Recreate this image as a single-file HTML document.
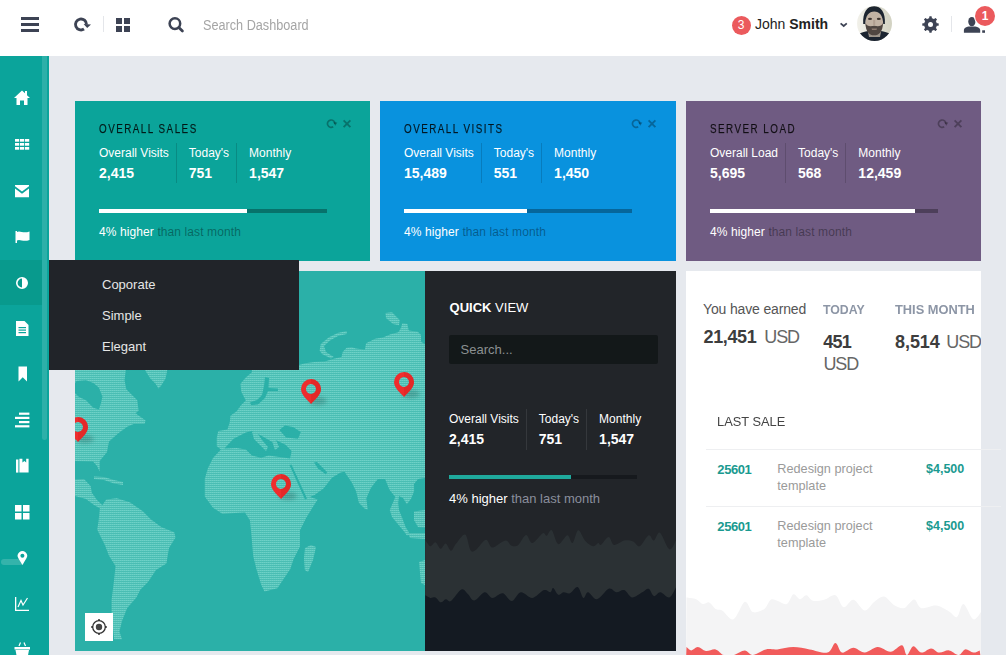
<!DOCTYPE html>
<html><head><meta charset="utf-8">
<style>
*{margin:0;padding:0;box-sizing:border-box}
html,body{width:1006px;height:655px;overflow:hidden}
body{background:#e6e9ee;font-family:"Liberation Sans",sans-serif;position:relative}
.a{position:absolute;white-space:nowrap}
#hdr{position:absolute;left:0;top:0;width:1006px;height:56px;background:#fff}
#side{position:absolute;left:0;top:56px;width:49px;height:599px;background:#0ba49b;overflow:hidden}
.card{position:absolute;overflow:hidden}
.ct{position:absolute;left:24.3px;top:22.2px;font-size:12px;line-height:12px;color:rgba(0,0,0,0.82);-webkit-text-stroke:0.25px rgba(0,0,0,0.6);letter-spacing:1.8px;transform:scaleX(0.82);transform-origin:0 0;white-space:nowrap}
.stats{position:absolute;left:24px;top:42.4px;display:flex;white-space:nowrap}
.stats>div{font-size:12px;line-height:12px;color:#fff;padding:3.2px 7px 0 12px;border-right:1px solid rgba(0,0,0,0.15);height:40px;position:relative}
.stats>div:first-child{padding-left:0}
.stats>div:last-child{border-right:0}
.stats b{display:block;font-size:14px;line-height:14px;margin-top:7.1px}
.pb{position:absolute;left:24px;top:108px;width:228px;height:4px;background:rgba(0,0,0,0.3)}
.pb i{position:absolute;left:0;top:0;height:4px;background:#fff}
.ft{position:absolute;left:24px;top:124.9px;font-size:12px;line-height:12px;color:#fff;white-space:nowrap;letter-spacing:0.1px}
.ft span{color:rgba(0,0,0,0.38)}
.tools{position:absolute;left:250px;top:18px}
.qs>div{padding-top:3.4px;height:40.7px}
.qs b{margin-top:7.4px}
.ddi{position:absolute;left:53px;font-size:13px;line-height:13px;color:#e6e6e6}
</style></head><body>
<div id="hdr">
  <!-- hamburger -->
  <div class="a" style="left:21px;top:17px;width:18px;height:3px;background:#3d4354"></div>
  <div class="a" style="left:21px;top:23px;width:18px;height:3px;background:#3d4354"></div>
  <div class="a" style="left:21px;top:29px;width:18px;height:3px;background:#3d4354"></div>
  <!-- refresh -->
  <svg class="a" style="left:72px;top:15px" width="22" height="20" viewBox="0 0 22 20"><path d="M12 14.06 A5.5 5.5 0 1 1 14.5 9.45" fill="none" stroke="#3d4354" stroke-width="2.9"/><path d="M11.6 9 L19 9.4 L15.2 13 Z" fill="#3d4354"/></svg>
  <div class="a" style="left:103px;top:16px;width:1px;height:16px;background:#e4e6ea"></div>
  <!-- grid -->
  <div class="a" style="left:116px;top:18px;width:6px;height:6px;background:#3d4354"></div>
  <div class="a" style="left:124px;top:18px;width:6px;height:6px;background:#3d4354"></div>
  <div class="a" style="left:116px;top:26px;width:6px;height:6px;background:#3d4354"></div>
  <div class="a" style="left:124px;top:26px;width:6px;height:6px;background:#3d4354"></div>
  <!-- search -->
  <svg class="a" style="left:166px;top:15px" width="22" height="20" viewBox="0 0 22 20"><circle cx="8.9" cy="8.6" r="5.3" fill="none" stroke="#3d4354" stroke-width="2.5"/><path d="M12.8 12.5 L16.4 16.1" stroke="#3d4354" stroke-width="2.8" stroke-linecap="round"/></svg>
  <div class="a" style="left:202.5px;top:18.2px;font-size:14px;line-height:14px;color:#a5a5a5;transform:scaleX(0.905);transform-origin:0 0">Search Dashboard</div>
  <!-- user -->
  <div class="a" style="left:731.5px;top:16px;width:19px;height:19px;border-radius:50%;background:#eb5a5d;color:#fff;font-size:12px;line-height:19px;text-align:center">3</div>
  <div class="a" style="left:755px;top:17.1px;font-size:14px;line-height:14px;color:#222">John <b>Smith</b></div>
  <svg class="a" style="left:838px;top:20px" width="12" height="10" viewBox="0 0 12 10"><path d="M2.6 3.3 L5.7 6 L8.8 3.3" fill="none" stroke="#3d4354" stroke-width="1.7"/></svg>
  <!-- avatar -->
  <svg class="a" style="left:857px;top:5.85px" width="35" height="35" viewBox="0 0 35 35">
    <defs><clipPath id="avc"><circle cx="17.5" cy="17.5" r="17.5"/></clipPath>
    <linearGradient id="avg" x1="0" x2="1" y1="0" y2="0"><stop offset="0" stop-color="#f2f1ea"/><stop offset="1" stop-color="#d2d2c2"/></linearGradient></defs>
    <g clip-path="url(#avc)">
      <rect width="35" height="35" fill="url(#avg)"/>
      <path d="M0 35 L0 29 C4 26.5 8 25.3 11 25 C13 28.5 21.5 28.5 24 25 C27 25.3 31 26.5 35 29 L35 35 Z" fill="#1b2430"/>
      <path d="M10.8 25 L24.2 25 L23 31 L12 31 Z" fill="#9c948a"/>
      <ellipse cx="17.2" cy="16" rx="9" ry="11.5" fill="#c2b3a4"/>
      <path d="M8.4 17 C8.6 26 12.5 29.3 17.2 29.3 C21.9 29.3 25.8 26 26 17 C24.5 20.5 21.5 20.5 17.2 19.8 C13 20.5 10 20.5 8.4 17 Z" fill="#4f4641"/>
      <path d="M14.5 22.6 L20 22.6 L19.5 24 L15 24 Z" fill="#8c7a70"/>
      <path d="M6.2 18 C5.6 6 10 0.2 17 0.2 C24 0.2 28.6 6 27.9 18 L26.2 18 C26 9.5 22.5 5.5 17.2 5.5 C12 5.5 8.6 9.5 8.2 18 Z" fill="#1d2530"/>
      <ellipse cx="13" cy="12.9" rx="2" ry="1.1" fill="#3d3530"/>
      <ellipse cx="21.8" cy="12.9" rx="2" ry="1.1" fill="#3d3530"/>
      <rect x="16.2" y="14" width="2" height="5" fill="#b09e90"/>
    </g>
  </svg>
  <!-- gear -->
  <svg class="a" style="left:921px;top:15.4px" width="19" height="19" viewBox="0 0 19 19">
    <g fill="#3d4354" transform="translate(9.5 9.5)">
      <circle r="6.4"/>
      <rect x="-1.3" y="-8.2" width="2.6" height="3" rx="0.6"/>
      <rect x="-1.3" y="-8.2" width="2.6" height="3" rx="0.6" transform="rotate(45)"/>
      <rect x="-1.3" y="-8.2" width="2.6" height="3" rx="0.6" transform="rotate(90)"/>
      <rect x="-1.3" y="-8.2" width="2.6" height="3" rx="0.6" transform="rotate(135)"/>
      <rect x="-1.3" y="-8.2" width="2.6" height="3" rx="0.6" transform="rotate(180)"/>
      <rect x="-1.3" y="-8.2" width="2.6" height="3" rx="0.6" transform="rotate(225)"/>
      <rect x="-1.3" y="-8.2" width="2.6" height="3" rx="0.6" transform="rotate(270)"/>
      <rect x="-1.3" y="-8.2" width="2.6" height="3" rx="0.6" transform="rotate(315)"/>
      <circle r="2.5" fill="#fff"/>
    </g>
  </svg>
  <div class="a" style="left:951px;top:16px;width:1px;height:16px;background:#e4e6ea"></div>
  <!-- person -->
  <svg class="a" style="left:963px;top:16px" width="24" height="18" viewBox="0 0 24 18">
    <ellipse cx="8.85" cy="5.6" rx="3.6" ry="4.7" fill="#3d4354"/>
    <path d="M0.9 16.8 L0.9 14 C0.9 12 3 11 5.5 10.4 L12.3 10.4 C15 11 17.2 12 17.2 14 L17.2 16.8 Z" fill="#3d4354"/>
    <rect x="19.2" y="14.3" width="2.8" height="2.5" fill="#3d4354"/>
  </svg>
  <div class="a" style="left:975px;top:6px;width:20px;height:20px;border-radius:50%;background:#eb5a5d;box-shadow:0 0 0 1px #fff;color:#fff;font-size:12px;line-height:20px;text-align:center;font-weight:bold">1</div>
</div>

<div id="side">
  <div class="a" style="left:0;top:204px;width:42px;height:45px;background:#089a8d"></div>
  <div class="a" style="left:42px;top:0;width:5px;height:384px;border-radius:0 0 3px 3px;background:rgba(255,255,255,0.14)"></div>
  <div class="a" style="left:1px;top:503px;width:23px;height:6px;border-radius:3px;background:rgba(255,255,255,0.17)"></div>
  <svg class="a" style="left:0;top:0" width="42" height="599" viewBox="0 56 42 599" fill="#fff">
    <!-- home 98 -->
    <path d="M14 98 L22 90.5 L25 93.3 L25 91 L27 91 L27 95.2 L30 98 L27.5 98 L27.5 105 L24 105 L24 100.5 L20 100.5 L20 105 L16.5 105 L16.5 98 Z"/>
    <!-- grid 144 -->
    <g><rect x="15" y="139" width="4.2" height="2.7"/><rect x="20" y="139" width="4.2" height="2.7"/><rect x="25" y="139" width="4.2" height="2.7"/><rect x="15" y="143" width="4.2" height="2.7"/><rect x="20" y="143" width="4.2" height="2.7"/><rect x="25" y="143" width="4.2" height="2.7"/><rect x="15" y="147" width="4.2" height="2.7"/><rect x="20" y="147" width="4.2" height="2.7"/><rect x="25" y="147" width="4.2" height="2.7"/></g>
    <!-- mail 191 -->
    <path d="M15 185 L29 185 L29 186.2 L22 191.5 L15 186.2 Z"/>
    <path d="M15 188.5 L22 193.8 L29 188.5 L29 197.3 L15 197.3 Z"/>
    <!-- flag 237 -->
    <path d="M15.5 231 L17 231 L17 243 L15.5 243 Z"/>
    <path d="M17 232 C20 230 23 234 29.5 231.5 L29.5 240 C23 242.5 20 238.5 17 240.5 Z"/>
    <!-- contrast 283 -->
    <circle cx="22" cy="283" r="5.2" fill="none" stroke="#fff" stroke-width="1.6"/>
    <path d="M22 277.8 A5.2 5.2 0 0 1 22 288.2 Z"/>
    <!-- doc 329 -->
    <path d="M16 321 L24.5 321 L28.5 325 L28.5 336 L16 336 Z"/>
    <g fill="#0ba49b"><rect x="18.5" y="327" width="7.5" height="1.2"/><rect x="18.5" y="329.5" width="7.5" height="1.2"/><rect x="18.5" y="332" width="7.5" height="1.2"/></g>
    <!-- bookmark 374 -->
    <path d="M18.5 366.5 L27 366.5 L27 381.5 L22.75 377.2 L18.5 381.5 Z"/>
    <!-- list 420 -->
    <g><rect x="19" y="412.6" width="10.4" height="2.2"/><rect x="15" y="416.8" width="14.4" height="2.2"/><rect x="19" y="421" width="10.4" height="2.2"/><rect x="15" y="425.2" width="14.4" height="2.2"/></g>
    <!-- book 466 -->
    <path d="M16 459.5 L18.4 459.5 L18.4 472.6 L16 472.6 Z"/>
    <path d="M19.4 458.8 L22.4 458.8 L22.4 462.4 L24.4 461 L26.2 462.4 L26.2 458.8 L28.6 458.8 L28.6 472.6 L19.4 472.6 Z"/>
    <!-- grid4 512 -->
    <g><rect x="15" y="505" width="6.5" height="6.5"/><rect x="23" y="505" width="6.5" height="6.5"/><rect x="15" y="513" width="6.5" height="6.5"/><rect x="23" y="513" width="6.5" height="6.5"/></g>
    <!-- pin 558 -->
    <path d="M22.4 565 L18.5 558.5 A4.7 4.7 0 1 1 26.3 558.5 Z"/>
    <circle cx="22.4" cy="555.7" r="2" fill="#0ba49b"/>
    <!-- chart 604 -->
    <path d="M15 597 L16.3 597 L16.3 609.7 L29 609.7 L29 611 L15 611 Z"/>
    <path d="M18 607 L21 600.5 L23 605 L27.5 598" fill="none" stroke="#fff" stroke-width="1.2"/>
    <!-- basket 650 -->
    <path d="M14.5 647 L30 647 L30 649.5 L14.5 649.5 Z"/>
    <path d="M15.5 650 L29 650 L27.5 658 L17 658 Z"/>
    <path d="M19 646 L20.5 642.5 M25.5 646 L24 642.5" stroke="#fff" stroke-width="1.2"/>
  </svg>
</div>

<!-- ROW 1 CARDS -->
<div class="card" style="left:75px;top:101px;width:295px;height:160px;background:#0ba49a">
  <div class="ct">OVERALL SALES</div><svg class="tools" width="32" height="14" viewBox="0 0 32 14"><path d="M8.2 7.8 A3.7 3.7 0 1 1 9.9 4.7" fill="none" stroke="rgba(0,0,0,0.3)" stroke-width="1.7"/><path d="M8.3 3.3 L12.3 3.5 L10.3 6.7 Z" fill="rgba(0,0,0,0.3)"/><path d="M18.6 1.4 L25.4 8.2 M25.4 1.4 L18.6 8.2" stroke="rgba(0,0,0,0.3)" stroke-width="1.9"/></svg>
  <div class="stats"><div>Overall Visits<b>2,415</b></div><div>Today's<b>751</b></div><div>Monthly<b>1,547</b></div></div>
  <div class="pb"><i style="width:148px"></i></div>
  <div class="ft">4% higher <span>than last month</span></div>
</div>
<div class="card" style="left:380px;top:101px;width:296px;height:160px;background:#0992de">
  <div class="ct">OVERALL VISITS</div><svg class="tools" width="32" height="14" viewBox="0 0 32 14"><path d="M8.2 7.8 A3.7 3.7 0 1 1 9.9 4.7" fill="none" stroke="rgba(0,0,0,0.3)" stroke-width="1.7"/><path d="M8.3 3.3 L12.3 3.5 L10.3 6.7 Z" fill="rgba(0,0,0,0.3)"/><path d="M18.6 1.4 L25.4 8.2 M25.4 1.4 L18.6 8.2" stroke="rgba(0,0,0,0.3)" stroke-width="1.9"/></svg>
  <div class="stats"><div>Overall Visits<b>15,489</b></div><div>Today's<b>551</b></div><div>Monthly<b>1,450</b></div></div>
  <div class="pb"><i style="width:123px"></i></div>
  <div class="ft">4% higher <span>than last month</span></div>
</div>
<div class="card" style="left:686px;top:101px;width:295px;height:160px;background:#6f5b82">
  <div class="ct">SERVER LOAD</div><svg class="tools" width="32" height="14" viewBox="0 0 32 14"><path d="M8.2 7.8 A3.7 3.7 0 1 1 9.9 4.7" fill="none" stroke="rgba(0,0,0,0.3)" stroke-width="1.7"/><path d="M8.3 3.3 L12.3 3.5 L10.3 6.7 Z" fill="rgba(0,0,0,0.3)"/><path d="M18.6 1.4 L25.4 8.2 M25.4 1.4 L18.6 8.2" stroke="rgba(0,0,0,0.3)" stroke-width="1.9"/></svg>
  <div class="stats"><div>Overall Load<b>5,695</b></div><div>Today's<b>568</b></div><div>Monthly<b>12,459</b></div></div>
  <div class="pb"><i style="width:205px"></i></div>
  <div class="ft">4% higher <span>than last month</span></div>
</div>

<!-- ROW 2 -->
<svg class="a" style="left:75px;top:271px" width="350" height="380" viewBox="75 271 350 380">
<defs>
<pattern id="dots" x="0" y="0" width="2" height="2" patternUnits="userSpaceOnUse">
<rect width="2" height="2" fill="#4abdb3"/><rect width="2" height="1" fill="#61cbc1"/><rect width="1" height="1" fill="#6fd1c7"/>
</pattern>
<filter id="blur" x="-50%" y="-50%" width="200%" height="200%"><feGaussianBlur stdDeviation="2"/></filter>
</defs>
<rect x="75" y="271" width="350" height="380" fill="#2bb0a8"/>
<polygon points="75,366 126.3,366 124.5,380.2 126.3,389.3 130,393 137.3,400.3 138.6,410.8 135.5,413.2 145.6,420.5 144.6,424.1 133.6,424.1 127.2,426.8 118,433.6 109,441.5 107,452 99.7,461 99.7,471.4 97,466 93,461.5 75,461" fill="url(#dots)"/><polygon points="75,479.4 84,479 90.6,486 92,493 97,500 104.3,506.9 101,509 94,505 86,499 75,496" fill="url(#dots)"/><polygon points="143,366 168,366 165.7,378.3 161.1,385.7 158.4,388.4 155.6,383.8 150.1,378.3 145.6,371" fill="url(#dots)"/><polygon points="94,476.5 104,477 114,480 123,482 123,485 114,483.5 104,480 94,479" fill="url(#dots)"/><polygon points="99.8,508.7 106.3,499.6 116.8,498.3 129.8,502.2 142.9,511.3 150.7,519.2 161.2,527 174.2,532.2 175.5,537.5 169,548 166.4,563.6 156,570 148,581.9 140.3,589.7 136.4,597.5 127.2,608 122,621 119.4,631.5 122,639.3 114.2,639.3 111.6,615.8 111.6,600 114.2,579 115.5,566 109,555.7 105,545.3 101.1,537.5 97.2,529.6 98.5,521.8" fill="url(#dots)"/><polygon points="252,365 299,365 305.3,363.3 314.4,362 324.7,361.4 333.8,358.8 341.5,356.9 342.8,351.7 346.7,347.8 351.9,347.2 355.7,348.5 359.6,349.1 364.8,349.8 366.1,343.3 375.1,338.8 382.9,337.5 390.6,334.2 398.4,332.3 401,327.8 402.3,323.3 407.4,323.9 408.7,330.4 417.8,331.7 421,334.9 421,341.4 425,344.6 425,478 418,479 414,484 414.1,491.3 411.2,498.5 406.9,504.3 403,498 399,496 398.2,503 399,510.1 402.5,518.8 406.9,530.4 409,534.8 407,535.5 398,522 392,514 390,509.5 395.3,497 389.5,489.8 385.1,478.9 377.9,478.9 375,482.6 370.6,488.4 366.3,498.5 367.7,509.4 364.8,508.7 359,502.9 356.1,491.3 351.8,482.6 344.5,471.7 340.6,472.4 332,477.7 323.5,488.4 314.9,494.8 310,497 317.7,499.6 314.4,504.5 306.4,517.4 300,530.3 300,546.4 293.5,559.3 290.3,569 277.4,588.3 264.5,591.5 261.3,585 256.4,569 253.2,556 251.6,536.7 250,520.6 245,512.5 235,513 222.6,514 213,507.7 204.8,496.4 204.8,478.7 208,468 213,458 221,449.4 216.8,446.3 216.8,437.2 218.3,431.1 227.5,429.5 229.8,421.9 230.5,415.8 236.6,411.2 241.2,405.1 245.8,400.5 241.2,391.4 240.5,383.7 245.8,377.6 251.9,372.3" fill="url(#dots)"/><polygon points="305,548 311,545 316,547 313,560 308,572 304.8,570 304,558" fill="url(#dots)"/><polygon points="389.7,509.8 394,512 409,532 407,535 392,517" fill="url(#dots)"/><polygon points="414,511.6 425,510 425,527.5 418,527 414,520" fill="url(#dots)"/><polygon points="408,533 425,533 425,539 410,538" fill="url(#dots)"/><polygon points="419,562 425,560 425,585 421,583" fill="url(#dots)"/><polygon points="319.6,350.4 320.8,344 328.6,337.5 337.6,333 346.7,331 346.7,334 338,336 330,340.5 324,346 326,352 333.8,357 331,358.5 322,354" fill="url(#dots)"/><polygon points="385.5,313 392,312.3 399.7,320 399,325.2 393,324 386,318" fill="url(#dots)"/>
<polygon points="76.8,381 86,380.2 93.3,382.9 98.8,387.5 102.5,396.7 100.7,404 98.8,409.5 93.3,407.7 86,400.3 78.7,396.7 75,393 75,383" fill="#2bb0a8"/><polygon points="224.4,448.5 233.6,438.7 245.8,432.6 251.9,431.1 261,435.6 271.8,441.8 276.3,440.2 285.5,444.8 291.6,450.9 290.1,458.5 279.4,457 268.7,455.5 261,457.8 251.9,455.5 245.8,449.4 236.6,447.9" fill="#2bb0a8"/><polygon points="279.4,430 285,425.5 293,427 300.8,432 298,438.7 286,437.5" fill="#2bb0a8"/><polygon points="289.5,465 291.5,464.5 307,498.5 305,499.5" fill="#2bb0a8"/><polygon points="314,462.5 317,462 327,472 326,474.5 318,468.5" fill="#2bb0a8"/><polygon points="265,377 269,378 268.5,388 278,388.5 278,391 268,391 265,398 258,404.5 251,405 250,402.5 257,400 262,395 264,386" fill="#2bb0a8"/>
<polygon points="252,432 256,431 262,440 268,447 266,451 261,446 254,439" fill="url(#dots)"/><polygon points="272,441 276,440 279,447 275,450" fill="url(#dots)"/><g transform="translate(311 379)">
<ellipse cx="7" cy="22" rx="9" ry="4" fill="rgba(0,0,0,0.18)" filter="url(#blur)"/>
<path fill-rule="evenodd" d="M0 25 C-3 21 -10 16.5 -10 10 A10 10 0 1 1 10 10 C10 16.5 3 21 0 25 Z M0 5 A5 5 0 1 0 0.01 5 Z" fill="#ee2d2d"/>
<path fill-rule="evenodd" d="M0 25 C3 21 10 16.5 10 10 A10 10 0 0 0 0 0 L0 5 A5 5 0 0 1 0 15 Z" fill="#dc2424" opacity="0.55"/>
</g><g transform="translate(404 372)">
<ellipse cx="7" cy="22" rx="9" ry="4" fill="rgba(0,0,0,0.18)" filter="url(#blur)"/>
<path fill-rule="evenodd" d="M0 25 C-3 21 -10 16.5 -10 10 A10 10 0 1 1 10 10 C10 16.5 3 21 0 25 Z M0 5 A5 5 0 1 0 0.01 5 Z" fill="#ee2d2d"/>
<path fill-rule="evenodd" d="M0 25 C3 21 10 16.5 10 10 A10 10 0 0 0 0 0 L0 5 A5 5 0 0 1 0 15 Z" fill="#dc2424" opacity="0.55"/>
</g><g transform="translate(281 474)">
<ellipse cx="7" cy="22" rx="9" ry="4" fill="rgba(0,0,0,0.18)" filter="url(#blur)"/>
<path fill-rule="evenodd" d="M0 25 C-3 21 -10 16.5 -10 10 A10 10 0 1 1 10 10 C10 16.5 3 21 0 25 Z M0 5 A5 5 0 1 0 0.01 5 Z" fill="#ee2d2d"/>
<path fill-rule="evenodd" d="M0 25 C3 21 10 16.5 10 10 A10 10 0 0 0 0 0 L0 5 A5 5 0 0 1 0 15 Z" fill="#dc2424" opacity="0.55"/>
</g><g transform="translate(78 417)">
<ellipse cx="7" cy="22" rx="9" ry="4" fill="rgba(0,0,0,0.18)" filter="url(#blur)"/>
<path fill-rule="evenodd" d="M0 25 C-3 21 -10 16.5 -10 10 A10 10 0 1 1 10 10 C10 16.5 3 21 0 25 Z M0 5 A5 5 0 1 0 0.01 5 Z" fill="#ee2d2d"/>
<path fill-rule="evenodd" d="M0 25 C3 21 10 16.5 10 10 A10 10 0 0 0 0 0 L0 5 A5 5 0 0 1 0 15 Z" fill="#dc2424" opacity="0.55"/>
</g>
<rect x="85" y="613" width="28" height="28" fill="#fff"/>
<circle cx="99" cy="627" r="6.3" fill="none" stroke="#333" stroke-width="1.3"/>
<circle cx="99" cy="627" r="3.2" fill="#444"/>
<path d="M99 619.3 L99 621 M99 633 L99 634.7 M91.3 627 L93 627 M105 627 L106.7 627" stroke="#333" stroke-width="2"/>
</svg>
<div class="a" style="left:425px;top:271px;width:251px;height:380px;background:#222529;overflow:hidden">
<svg class="a" style="left:0;top:0" width="251" height="380" viewBox="425 271 251 380">
<path d="M425.2 539.7 C426.1 540.8 428.6 545.8 430.3 546.2 C432.0 546.6 433.8 541.9 435.5 542.3 C437.2 542.7 439.0 548.6 440.7 548.8 C442.4 549.0 444.1 543.3 445.8 543.6 C447.5 543.9 449.3 550.8 451.0 550.8 C452.7 550.8 453.8 546.3 456.2 543.6 C458.6 540.9 462.8 533.5 465.2 534.6 C467.6 535.7 468.7 547.4 470.4 550.0 C472.1 552.6 473.0 551.7 475.6 550.0 C478.2 548.3 483.1 540.1 485.9 539.7 C488.7 539.3 489.2 547.4 492.4 547.5 C495.6 547.6 502.1 540.8 505.3 540.5 C508.5 540.2 509.6 545.0 511.8 545.7 C514.0 546.4 515.8 546.7 518.2 544.9 C520.6 543.1 523.6 535.3 526.0 535.0 C528.4 534.7 529.6 543.3 532.4 543.0 C535.2 542.7 540.4 534.5 542.8 533.3 C545.2 532.1 545.1 536.3 546.6 535.8 C548.1 535.3 549.8 528.8 551.8 530.2 C553.8 531.6 555.7 543.2 558.3 544.1 C560.9 545.0 564.9 535.5 567.3 535.3 C569.7 535.1 570.7 543.9 572.5 543.0 C574.3 542.1 576.1 530.5 578.2 530.2 C580.4 529.9 582.9 538.3 585.4 541.0 C587.9 543.7 591.1 545.9 593.2 546.2 C595.4 546.5 597.0 543.2 598.3 543.0 C599.6 542.8 599.2 545.9 600.9 544.9 C602.6 543.9 606.5 537.1 608.7 537.1 C610.9 537.1 611.3 544.3 613.9 544.9 C616.5 545.5 621.0 541.1 624.2 540.5 C627.4 539.9 630.6 540.5 633.2 541.5 C635.8 542.5 637.1 547.2 639.7 546.2 C642.3 545.2 646.3 536.2 648.7 535.3 C651.1 534.3 652.0 540.9 653.9 540.5 C655.8 540.1 657.3 531.2 659.9 532.7 C662.5 534.2 666.7 548.0 669.4 549.3 C672.1 550.6 674.9 542.0 676.0 540.5 L676.0 651.0 L425.0 651.0 Z" fill="#2b3134"/>
<path d="M425.2 595.3 C426.1 595.7 428.6 597.5 430.3 597.9 C432.0 598.2 433.8 596.7 435.5 597.4 C437.2 598.1 439.0 602.0 440.7 602.3 C442.4 602.6 444.1 599.4 445.8 599.2 C447.5 599.0 448.4 602.6 451.0 601.0 C453.6 599.4 458.6 590.8 461.4 589.6 C464.2 588.4 465.6 592.2 467.8 594.0 C470.0 595.8 471.5 600.8 474.3 600.5 C477.1 600.2 481.6 592.6 484.6 592.2 C487.6 591.8 489.4 597.7 492.4 597.9 C495.4 598.1 499.5 592.7 502.7 593.2 C505.9 593.7 508.8 601.2 511.8 601.0 C514.8 600.8 517.4 592.7 520.8 592.2 C524.2 591.7 528.5 598.2 532.4 597.9 C536.3 597.5 541.1 591.0 544.1 590.1 C547.1 589.2 549.0 592.5 550.5 592.2 C552.0 591.9 551.8 587.7 553.1 588.1 C554.4 588.5 556.6 594.1 558.3 594.8 C560.0 595.5 561.6 592.5 563.5 592.2 C565.4 591.9 567.5 594.1 569.9 593.2 C572.3 592.3 575.5 586.2 577.7 587.0 C579.9 587.8 581.6 597.0 583.3 597.9 C585.0 598.8 585.7 592.0 588.0 592.2 C590.3 592.4 593.5 599.8 597.0 599.2 C600.5 598.6 605.5 590.0 608.7 588.8 C611.9 587.6 613.8 592.0 616.4 592.2 C619.0 592.4 621.6 589.2 624.2 590.1 C626.8 591.0 629.0 597.0 632.0 597.4 C635.0 597.8 639.5 593.6 642.3 592.2 C645.1 590.8 646.8 588.1 648.7 588.8 C650.6 589.4 652.0 595.5 653.9 596.1 C655.8 596.7 657.8 592.0 660.4 592.2 C663.0 592.4 666.8 598.2 669.4 597.4 C672.0 596.6 674.9 589.1 676.0 587.5 L676.0 651.0 L425.0 651.0 Z" fill="#141a22"/>
</svg>
<div class="a" style="left:24.6px;top:29.7px;font-size:13px;line-height:13px;color:#fff"><b>QUICK</b> VIEW</div>
<div class="a" style="left:24px;top:64px;width:209px;height:29px;border-radius:2px;background:#131819"></div>
<div class="a" style="left:35.6px;top:71.7px;font-size:13px;line-height:13px;color:#8b9091">Search...</div>
<div class="stats qs" style="left:24px;top:138.2px"><div style="border-color:rgba(255,255,255,0.09)">Overall Visits<b>2,415</b></div><div style="border-color:rgba(255,255,255,0.09)">Today's<b>751</b></div><div>Monthly<b>1,547</b></div></div>
<div class="a" style="left:24px;top:204px;width:188px;height:4px;background:#16191d"><div style="width:122px;height:4px;background:#1fa99c"></div></div>
<div class="a" style="left:24px;top:220.9px;font-size:13px;line-height:13px;color:#fff">4% higher <span style="color:#8a8f9c">than last month</span></div>
</div>
<div class="a" style="left:686px;top:271px;width:295px;height:390px;background:#fff;overflow:hidden">
<svg class="a" style="left:0;top:0" width="295" height="390" viewBox="686 271 295 390">
<path d="M686.5 597.5 C688.1 597.8 693.5 598.1 696.2 599.2 C698.9 600.3 700.5 603.5 702.7 604.0 C704.9 604.5 707.1 601.6 709.2 602.4 C711.4 603.2 713.5 607.5 715.6 608.9 C717.8 610.2 719.1 608.8 722.1 610.5 C725.1 612.2 729.7 620.8 733.5 619.3 C737.3 617.8 741.6 603.0 744.8 601.8 C748.0 600.6 749.6 610.9 752.9 612.1 C756.1 613.3 761.3 611.0 764.3 608.9 C767.3 606.8 768.6 601.1 770.7 599.8 C772.9 598.4 774.5 600.1 777.2 600.8 C779.9 601.5 784.2 605.1 786.9 604.0 C789.6 602.9 791.2 595.1 793.4 594.3 C795.6 593.5 797.7 599.0 799.9 599.2 C802.1 599.4 804.2 595.0 806.4 595.3 C808.6 595.6 809.9 600.0 812.9 600.8 C815.9 601.5 820.4 600.7 824.2 599.8 C828.0 598.9 832.3 594.0 835.5 595.3 C838.7 596.5 840.6 606.5 843.6 607.3 C846.6 608.0 849.9 599.3 853.4 599.8 C856.9 600.3 861.2 610.2 864.7 610.5 C868.2 610.8 871.2 604.1 874.4 601.8 C877.6 599.5 880.9 596.1 884.1 596.6 C887.4 597.1 890.6 603.1 893.9 605.0 C897.1 606.9 900.9 608.6 903.6 608.2 C906.3 607.8 908.2 603.8 910.1 602.4 C912.0 601.0 913.0 598.8 914.9 599.8 C916.8 600.8 917.9 607.2 921.4 608.2 C924.9 609.2 931.4 605.1 936.0 605.6 C940.6 606.1 945.5 609.6 949.0 611.5 C952.5 613.4 954.6 618.2 957.0 617.0 C959.4 615.8 960.8 603.6 963.5 604.0 C966.2 604.4 970.3 618.0 973.3 619.3 C976.3 620.5 980.0 612.8 981.4 611.5 L981.0 660.0 L686.0 660.0 Z" fill="#f4f4f5"/>
<path d="M686.5 647.1 C687.3 647.6 689.4 650.4 691.3 650.4 C693.2 650.4 695.4 647.0 697.8 647.1 C700.2 647.2 702.9 650.6 705.9 651.0 C708.9 651.4 712.6 648.7 715.6 649.4 C718.6 650.1 720.7 654.1 723.7 655.0 C726.7 655.9 730.0 655.8 733.5 655.0 C737.0 654.2 741.6 650.4 744.8 650.4 C748.0 650.4 749.4 655.2 752.9 655.0 C756.4 654.8 761.8 650.3 765.9 649.4 C770.0 648.5 772.6 649.8 777.2 649.4 C781.8 649.0 788.0 647.1 793.4 647.1 C798.8 647.1 803.9 648.5 809.6 649.4 C815.3 650.3 823.1 653.7 827.4 652.6 C831.7 651.5 833.1 642.9 835.5 642.9 C837.9 642.9 839.0 651.8 842.0 652.6 C845.0 653.4 849.6 647.8 853.4 647.8 C857.2 647.8 860.7 652.7 864.7 652.6 C868.8 652.5 873.4 647.2 877.7 647.1 C882.0 647.0 886.6 652.0 890.6 651.7 C894.6 651.4 899.3 644.7 902.0 645.2 C904.7 645.8 904.9 654.8 906.8 655.0 C908.7 655.2 910.9 646.6 913.3 646.2 C915.7 645.8 918.4 652.2 921.4 652.6 C924.4 653.0 928.1 648.4 931.1 648.4 C934.1 648.4 936.2 652.3 939.2 652.6 C942.2 652.9 945.8 650.0 949.0 650.4 C952.2 650.8 956.0 655.2 958.7 655.0 C961.4 654.8 962.8 649.8 965.2 649.4 C967.6 649.0 970.9 652.4 973.3 652.6 C975.7 652.8 978.6 650.8 979.7 650.4 L981.0 660.0 L686.0 660.0 Z" fill="#f15b5b"/>
</svg>
<div class="a" style="left:17px;top:31.2px;font-size:14px;line-height:14px;color:#555;letter-spacing:-0.15px">You have earned</div>
<div class="a" style="left:17.6px;top:57.45px;font-size:18px;line-height:18px;color:#3d3d3d;font-weight:bold;letter-spacing:-0.4px">21,451</div>
<div class="a" style="left:78.3px;top:57.45px;font-size:18px;line-height:18px;color:#666;letter-spacing:-1.1px">USD</div>
<div class="a" style="left:137.4px;top:32.3px;font-size:13.5px;line-height:13.5px;color:#8d96a6;font-weight:bold;transform:scaleX(0.912);transform-origin:0 0">TODAY</div>
<div class="a" style="left:137.2px;top:62.15px;font-size:18px;line-height:18px;color:#3d3d3d;font-weight:bold;letter-spacing:-0.7px">451</div>
<div class="a" style="left:137.4px;top:83.75px;font-size:18px;line-height:18px;color:#666;letter-spacing:-1.1px">USD</div>
<div class="a" style="left:209.3px;top:32.3px;font-size:13.5px;line-height:13.5px;color:#8d96a6;font-weight:bold;transform:scaleX(0.951);transform-origin:0 0">THIS MONTH</div>
<div class="a" style="left:209.1px;top:62.15px;font-size:18px;line-height:18px;color:#3d3d3d;font-weight:bold;letter-spacing:-0.1px">8,514</div>
<div class="a" style="left:260.3px;top:62.15px;font-size:18px;line-height:18px;color:#666;letter-spacing:-1.1px">USD</div>
<div class="a" style="left:30.8px;top:144.3px;font-size:13.5px;line-height:13.5px;color:#444;transform:scaleX(0.95);transform-origin:0 0">LAST SALE</div>
</div>
<div class="a" style="left:706px;top:449px;width:295px;height:1px;background:#eeeff1"></div>
<div class="a" style="left:706px;top:506px;width:295px;height:1px;background:#eeeff1"></div>
<div class="a" style="left:717.3px;top:462.7px;font-size:13px;line-height:13px;color:#1a9a90;font-weight:bold;letter-spacing:-0.4px">25601</div>
<div class="a" style="left:777.3px;top:461.2px;font-size:12.7px;line-height:17.2px;color:#9a9a9a">Redesign project<br>template</div>
<div class="a" style="left:926px;top:462.7px;font-size:12.5px;line-height:12.5px;color:#1a9a90;font-weight:bold">$4,500</div>
<div class="a" style="left:717.3px;top:519.6px;font-size:13px;line-height:13px;color:#1a9a90;font-weight:bold;letter-spacing:-0.4px">25601</div>
<div class="a" style="left:777.3px;top:518.2px;font-size:12.7px;line-height:17.2px;color:#9a9a9a">Redesign project<br>template</div>
<div class="a" style="left:926px;top:519.6px;font-size:12.5px;line-height:12.5px;color:#1a9a90;font-weight:bold">$4,500</div>
<div class="a" style="left:49px;top:260px;width:250px;height:110px;background:#212429">
<div class="ddi" style="top:18.3px">Coporate</div>
<div class="ddi" style="top:48.8px">Simple</div>
<div class="ddi" style="top:80.3px">Elegant</div>
</div>
</body></html>
